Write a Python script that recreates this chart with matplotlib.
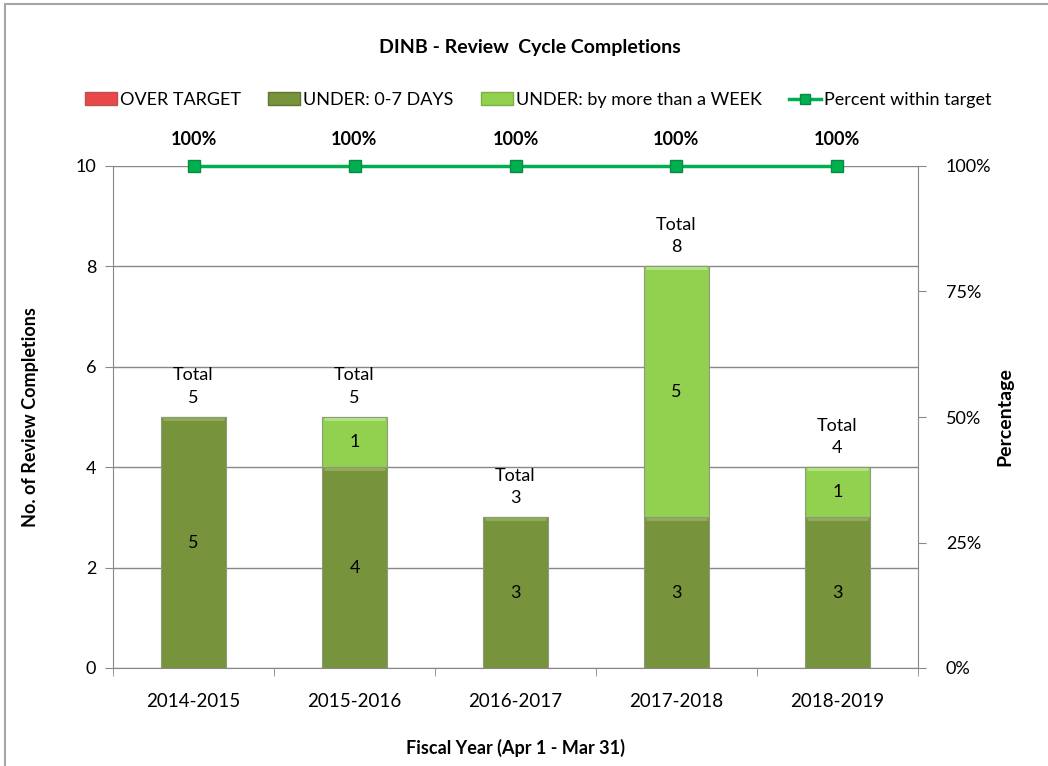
import numpy as np
import matplotlib.pyplot as plt
from matplotlib.patches import Rectangle, Patch
from matplotlib.lines import Line2D
from matplotlib.ticker import FixedLocator, PercentFormatter

plt.rcParams['font.family'] = ['Lato', 'DejaVu Sans']

# --- datos ---
years = ['2014-2015', '2015-2016', '2016-2017', '2017-2018', '2018-2019']
over_target = [0, 0, 0, 0, 0]
under_0_7 = [5, 4, 3, 3, 3]
under_week = [0, 1, 0, 5, 1]
pct_within = [100, 100, 100, 100, 100]

RED = '#E8484A'
DARK_GREEN = '#77933C'
LIGHT_GREEN = '#92D050'
LINE_GREEN = '#00B050'
GRID = '#888888'

fig = plt.figure(figsize=(10.48, 7.66), dpi=100)
# marco exterior del gráfico
fig.patches.append(Rectangle((5 / 1048, -0.05), 1.2, 1 - 4 / 766 + 0.05,
                             transform=fig.transFigure, fill=False,
                             edgecolor='#A6A6A6', linewidth=1.5))

ax = fig.add_axes([113 / 1048, 1 - 668 / 766, 805 / 1048, 502 / 766])
ax2 = ax.twinx()

x = np.arange(len(years))
w = 0.4
bottom = np.zeros(len(years))
segments = [(under_0_7, DARK_GREEN, '#93AD5C'), (under_week, LIGHT_GREEN, '#B4E485'),
            (over_target, RED, '#F08A8A')]
for vals, col, top_col in segments:
    vals = np.array(vals)
    ax.bar(x, vals, w, bottom=bottom, color=col, edgecolor='#8E9A7C', linewidth=0.8, zorder=3)
    for i, v in enumerate(vals):
        if v > 0:
            # borde superior más claro (efecto bisel)
            ax.plot([x[i] - w / 2 + 0.008, x[i] + w / 2 - 0.008], [bottom[i] + v - 0.035] * 2,
                    color=top_col, linewidth=2, zorder=3.5, solid_capstyle='butt')
            ax.text(x[i], bottom[i] + v / 2, f'{v}', ha='center', va='center',
                    fontsize=13, zorder=4)
    bottom += vals

totals = bottom
for i, t in enumerate(totals):
    ax.text(x[i], t + 0.22, f'Total\n{int(t)}', ha='center', va='bottom',
            fontsize=13, linespacing=1.5, zorder=4)

ax.set_xlim(-0.5, len(years) - 0.5)
ax.set_ylim(0, 10)
ax.set_yticks(range(0, 11, 2))
ax.yaxis.grid(True, color=GRID, linewidth=1)
ax.set_axisbelow(True)
ax.set_xticks(x)
ax.set_xticklabels(years, fontsize=13.5)
ax.xaxis.set_minor_locator(FixedLocator(np.arange(-0.5, len(years), 1)))
ax.tick_params(axis='x', which='major', length=0, pad=18)
ax.tick_params(axis='x', which='minor', length=6, color=GRID, direction='out')
ax.tick_params(axis='y', length=6, color=GRID, labelsize=13, pad=6)
for s in ['left', 'bottom']:
    ax.spines[s].set_color(GRID)
for s in ['top', 'right']:
    ax.spines[s].set_visible(False)

ax.set_ylabel('No. of Review Completions', fontsize=13, fontweight='bold', labelpad=26)
ax.set_xlabel('Fiscal Year (Apr 1 - Mar 31)', fontsize=13, fontweight='bold')
ax.xaxis.set_label_coords(0.5, -0.141)

# eje secundario: porcentaje
ax2.plot(x, pct_within, color=LINE_GREEN, linewidth=2.5, marker='s', markersize=8,
         markerfacecolor=LINE_GREEN, markeredgecolor='#0A8A40', zorder=5, clip_on=False)
for i, p in enumerate(pct_within):
    ax2.text(x[i], p + 3.5, f'{p}%', ha='center', va='bottom', fontsize=13,
             fontweight='bold')
ax2.set_ylim(0, 100)
ax2.set_yticks([0, 25, 50, 75, 100])
ax2.yaxis.set_major_formatter(PercentFormatter(decimals=0))
ax2.tick_params(axis='y', length=6, color=GRID, labelsize=13, pad=14)
ax2.spines['right'].set_color(GRID)
for s in ['top', 'left', 'bottom']:
    ax2.spines[s].set_visible(False)
ax2.set_ylabel('Percentage', fontsize=14, fontweight='bold', labelpad=4)

fig.text(530 / 1048, 1 - 48 / 766, 'DINB - Review  Cycle Completions', ha='center',
         va='center', fontsize=14, fontweight='bold')

handles = [Patch(facecolor=RED, edgecolor='#C0504D'),
           Patch(facecolor=DARK_GREEN, edgecolor='#5F7530'),
           Patch(facecolor=LIGHT_GREEN, edgecolor='#7DB040'),
           Line2D([], [], color=LINE_GREEN, linewidth=2.5, marker='s', markersize=7,
                  markerfacecolor=LINE_GREEN, markeredgecolor='#0A8A40')]
labels = ['OVER TARGET', 'UNDER: 0-7 DAYS', 'UNDER: by more than a WEEK',
          'Percent within target']
fig.legend(handles, labels, loc='center', bbox_to_anchor=(538 / 1048, 1 - 100 / 766),
           ncol=4, frameon=False, fontsize=13, handlelength=1.8, handletextpad=0.15,
           columnspacing=1.5)

fig.savefig('out.png', dpi=100)
